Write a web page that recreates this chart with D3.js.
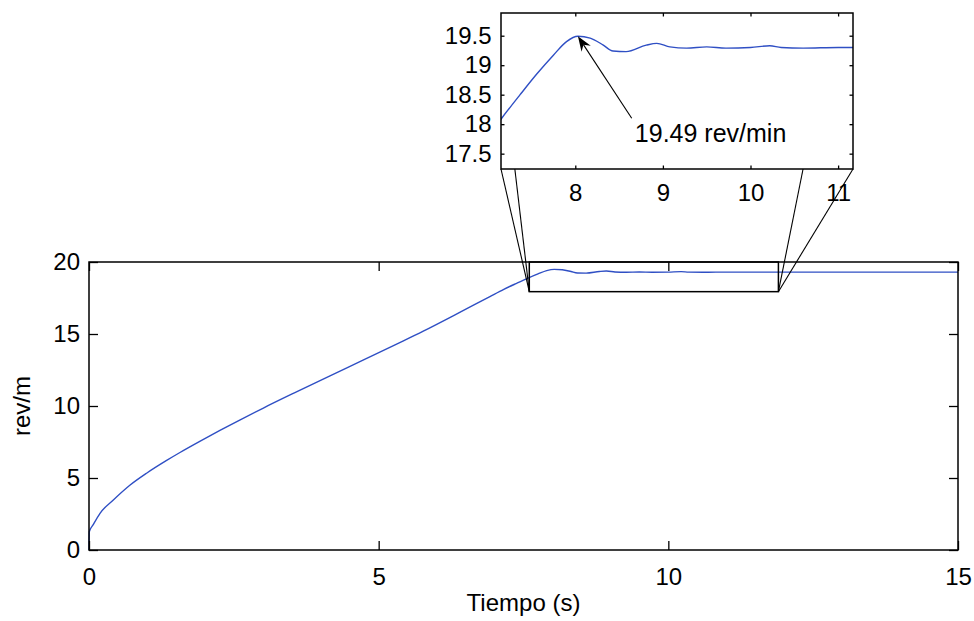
<!DOCTYPE html>
<html>
<head>
<meta charset="utf-8">
<script src="https://cdn.jsdelivr.net/npm/d3@7/dist/d3.min.js"></script>
<style>
  html, body { margin: 0; padding: 0; background: #fff; }
  svg { display: block; font-family: "Liberation Sans", Arial, sans-serif; }
  .tick text { fill: #000; }
</style>
</head>
<body>
<svg id="chart" width="974" height="621"></svg>
<script>
// Motor speed response (rev/min) over time
const time  = [0, 0.005, 0.07, 0.19, 0.42, 0.71, 1.0, 1.34, 1.57, 1.92, 2.26, 2.61, 3.01, 3.59, 4.16, 4.73,
               5.31, 5.77, 6.35, 6.92, 7.16, 7.37, 7.56, 7.75, 7.90, 8.03, 8.17, 8.32, 8.43, 8.58, 8.81,
               8.93, 9.08, 9.27, 9.50, 9.72, 10.0, 10.22, 10.35, 10.6, 11.0, 12.0, 13.0, 14.0, 15.0];
const speed = [0, 1.27, 1.74, 2.55, 3.47, 4.51, 5.35, 6.22, 6.77, 7.56, 8.30, 9.04, 9.86, 11.0, 12.1, 13.18,
               14.3, 15.2, 16.4, 17.6, 18.1, 18.5, 18.85, 19.17, 19.40, 19.49, 19.46, 19.34, 19.24, 19.23, 19.34,
               19.37, 19.31, 19.29, 19.31, 19.29, 19.30, 19.33, 19.30, 19.29, 19.30, 19.30, 19.30, 19.30, 19.30];

// Axes ticks
const mainXTicks  = [0, 5, 10, 15];
const mainYTicks  = [0, 5, 10, 15, 20];
const insetXTicks = [8, 9, 10, 11];
const insetYTicks = [17.5, 18, 18.5, 19, 19.5];

// Axis ranges
const mainXDomain  = [0, 15];
const mainYDomain  = [0, 20];
const insetXDomain = [7.152, 11.17];
const insetYDomain = [17.24, 19.885];

// Magnified region marked on the main axes, and where its guide lines meet the inset
const zoomBoxT = [7.6, 11.9];
const zoomBoxV = [17.94, 20];
const guideLeftT  = [7.152, 7.31];
const guideRightT = [10.6, 11.17];

// Peak annotation
const peakT = 8.03, peakV = 19.49;
const peakLabel = "19.49 rev/min";
const labelAt = [8.68, 17.70];   // text position (inset data units)
const tailAt  = [8.644, 18.10];  // arrow tail (inset data units)

const xLabel = "Tiempo (s)";
const yLabel = "rev/m";

const svg = d3.select("#chart");
const lineColor = "#2f4fc4";
const FONT = 24;

const main  = { left: 89, right: 958, top: 262, bottom: 550 };
const inset = { left: 501, right: 853, top: 13, bottom: 169 };

const x  = d3.scaleLinear().domain(mainXDomain).range([main.left, main.right]);
const y  = d3.scaleLinear().domain(mainYDomain).range([main.bottom, main.top]);
const xi = d3.scaleLinear().domain(insetXDomain).range([inset.left, inset.right]);
const yi = d3.scaleLinear().domain(insetYDomain).range([inset.bottom, inset.top]);

const series = time.map((t, i) => ({ t, v: speed[i] }));

function drawAxes(g, sx, sy, box, xt, yt, tick, padX, padY) {
  const w = box.right - box.left, h = box.bottom - box.top;
  const style = a => a.selectAll(".domain").remove();
  g.append("g").attr("transform", `translate(0,${box.bottom})`)
    .call(d3.axisBottom(sx).tickValues(xt).tickFormat(d3.format("~g")).tickSizeInner(-tick).tickSizeOuter(0).tickPadding(padX))
    .call(style).attr("font-size", FONT).attr("font-family", null);
  g.append("g").attr("transform", `translate(0,${box.top})`)
    .call(d3.axisTop(sx).tickValues(xt).tickFormat("").tickSizeInner(-tick).tickSizeOuter(0))
    .call(style);
  g.append("g").attr("transform", `translate(${box.left},0)`)
    .call(d3.axisLeft(sy).tickValues(yt).tickFormat(d3.format("~g")).tickSizeInner(-tick).tickSizeOuter(0).tickPadding(padY))
    .call(style).attr("font-size", FONT).attr("font-family", null);
  g.append("g").attr("transform", `translate(${box.right},0)`)
    .call(d3.axisRight(sy).tickValues(yt).tickFormat("").tickSizeInner(-tick).tickSizeOuter(0))
    .call(style);
  g.selectAll(".tick line").attr("stroke", "#000").attr("stroke-width", 1.3);
  g.append("rect").attr("x", box.left).attr("y", box.top).attr("width", w).attr("height", h)
    .attr("fill", "none").attr("stroke", "#000").attr("stroke-width", 1.5);
}

// ---- Main axes ----
const gMain = svg.append("g");
gMain.append("rect").attr("x", main.left).attr("y", main.top)
  .attr("width", main.right - main.left).attr("height", main.bottom - main.top).attr("fill", "#fff");
gMain.append("path").datum(series)
  .attr("fill", "none").attr("stroke", lineColor).attr("stroke-width", 1.4)
  .attr("d", d3.line().x(d => x(d.t)).y(d => y(d.v)).curve(d3.curveMonotoneX));
drawAxes(gMain, x, y, main, mainXTicks, mainYTicks, 9, 18, 9);

gMain.append("text").attr("x", (main.left + main.right) / 2).attr("y", 611)
  .attr("text-anchor", "middle").attr("font-size", FONT).attr("fill", "#000").text(xLabel);
gMain.append("text").attr("transform", `translate(30,${(main.top + main.bottom) / 2}) rotate(-90)`)
  .attr("text-anchor", "middle").attr("font-size", FONT).attr("fill", "#000").text(yLabel);

// ---- Magnified region and guide lines ----
const gZoom = svg.append("g");
gZoom.append("rect")
  .attr("x", x(zoomBoxT[0])).attr("y", y(zoomBoxV[1]))
  .attr("width", x(zoomBoxT[1]) - x(zoomBoxT[0])).attr("height", y(zoomBoxV[0]) - y(zoomBoxV[1]))
  .attr("fill", "none").attr("stroke", "#000").attr("stroke-width", 1.5);
const guides = [
  ...guideLeftT.map(t => [xi(t), x(zoomBoxT[0])]),
  ...guideRightT.map(t => [xi(t), x(zoomBoxT[1])])
];
gZoom.selectAll("line.guide").data(guides).join("line").attr("class", "guide")
  .attr("x1", d => d[0]).attr("y1", inset.bottom)
  .attr("x2", d => d[1]).attr("y2", y(zoomBoxV[0]))
  .attr("stroke", "#000").attr("stroke-width", 1.1);

// ---- Inset axes ----
const gInset = svg.append("g");
gInset.append("rect").attr("x", inset.left).attr("y", inset.top)
  .attr("width", inset.right - inset.left).attr("height", inset.bottom - inset.top).attr("fill", "#fff");
svg.append("defs").append("clipPath").attr("id", "insetClip").append("rect")
  .attr("x", inset.left).attr("y", inset.top)
  .attr("width", inset.right - inset.left).attr("height", inset.bottom - inset.top);
gInset.append("path").datum(series)
  .attr("clip-path", "url(#insetClip)")
  .attr("fill", "none").attr("stroke", lineColor).attr("stroke-width", 1.4)
  .attr("d", d3.line().x(d => xi(d.t)).y(d => yi(d.v)).curve(d3.curveMonotoneX));
drawAxes(gInset, xi, yi, inset, insetXTicks, insetYTicks, 3.5, 14.5, 9.5);

// ---- Peak annotation ----
const tipX = xi(peakT), tipY = yi(peakV);
const tailX = xi(tailAt[0]), tailY = yi(tailAt[1]);
const ang = Math.atan2(tipY - tailY, tipX - tailX);
const headLen = 15, headW = 5.5, back = 10;
const ux = Math.cos(ang), uy = Math.sin(ang);
const px = -uy, py = ux;
const baseX = tipX - ux * headLen, baseY = tipY - uy * headLen;
const notchX = tipX - ux * back, notchY = tipY - uy * back;
gInset.append("line")
  .attr("x1", tailX).attr("y1", tailY).attr("x2", notchX).attr("y2", notchY)
  .attr("stroke", "#000").attr("stroke-width", 1.1);
gInset.append("path")
  .attr("d", `M${tipX},${tipY} L${baseX + px * headW},${baseY + py * headW} L${notchX},${notchY} L${baseX - px * headW},${baseY - py * headW} Z`)
  .attr("fill", "#000");
gInset.append("text").attr("x", xi(labelAt[0])).attr("y", yi(labelAt[1]))
  .attr("font-size", 25).attr("fill", "#000").text(peakLabel);
</script>
</body>
</html>
